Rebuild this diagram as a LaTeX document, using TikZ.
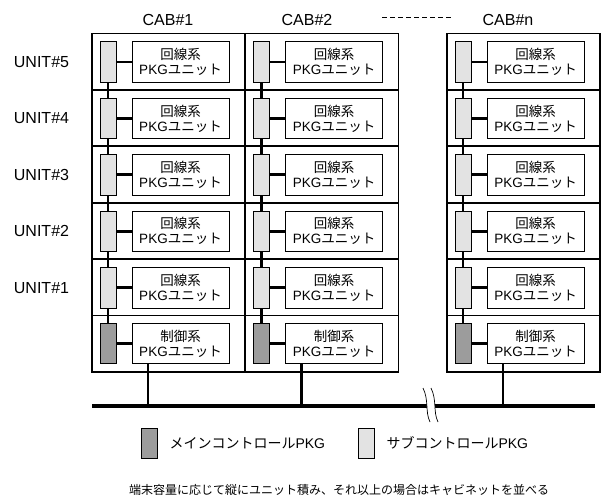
\documentclass[tikz,border=0pt]{standalone}
\usepackage{fontspec}
\setmainfont{Liberation Sans}
\newfontfamily\jp{Noto Sans CJK JP}
\usetikzlibrary{calc}

\tikzset{
  cab/.style={draw,line width=1.7pt},
  subpkg/.style={draw,fill=gray!22,minimum width=16pt,minimum height=40.5pt,inner sep=0pt,line width=.7pt},
  mainpkg/.style={subpkg,fill=gray!78},
  unitpkg/.style={draw,fill=white,minimum width=97pt,minimum height=40.5pt,inner sep=0pt,line width=.7pt,align=center,font=\fontsize{13.5}{15}\selectfont},
  wire/.style={line width=2.8pt},
  lbl/.style={font=\fontsize{16}{18}\selectfont}
}

\begin{document}
\begin{tikzpicture}[x=1pt,y=-1pt]
\useasboundingbox(0,0)rectangle(604,498);
% cabinets and units
\foreach \c/\l/\t in {1/92/168,2/245.5/307,n/447/508}{
  \node[lbl](cab\c)at(\t,20){CAB\#\c};
  \draw[cab](\l,33.5)rectangle(\l+153,372);
  \foreach \k in {1,...,5}\draw[cab](\l,33.5+\k*56.4)--(\l+153,33.5+\k*56.4);
  \foreach \j in {1,...,5}{
    \pgfmathsetmacro\yc{33.5+(5-\j)*56.4+28.5}
    \node[subpkg](s\c\j)at(\l+16,\yc){};
    \node[unitpkg](p\c\j)at(\l+88.5,\yc){{\jp 回線系}\\PKG{\jp ユニット}};
    \draw[wire](s\c\j)--(p\c\j);
  }
  \node[mainpkg](s\c0)at(\l+16,343.5){};
  \node[unitpkg](p\c0)at(\l+88.5,343.5){{\jp 制御系}\\PKG{\jp ユニット}};
  \draw[wire](s\c0)--(p\c0);
  \foreach \j/\i in {5/4,4/3,3/2,2/1,1/0}\draw[wire](s\c\j.south)--(s\c\i.north);
  \coordinate(d\c)at(\l+56,406);
  \draw[wire](d\c|-p\c0.south)--(d\c);
}
\foreach \j in {1,...,5}{
  \pgfmathsetmacro\yc{33.5+(5-\j)*56.4+28.5}
  \node[lbl](u\j)at(41.5,\yc){UNIT\#\j};
}
\coordinate(dotsL)at(382,17);\coordinate(dotsR)at(453,17);
\draw[line width=.9pt,dash pattern=on 5pt off 3pt](dotsL)--(dotsR);
% bus with break
\coordinate(busL)at(92,406);\coordinate(busR)at(595,406);
\draw[line width=3.2pt](busL)--(busR);
\fill[white](423,388)..controls(429,400)and(425,412)..(430,422)--(438,422)..controls(433,412)and(437,400)..(431,388)--cycle;
\draw[line width=.7pt](423,388)..controls(429,400)and(425,412)..(430,422);
\draw[line width=.7pt](431,388)..controls(437,400)and(433,412)..(438,422);
% legend
\node[mainpkg,minimum height=30pt](lgm)at(149,443){};
\node[anchor=west,font=\fontsize{14}{16}\selectfont](lgmt)at(166,443){{\jp メインコントロール}PKG};
\node[subpkg,minimum height=30pt](lgs)at(366,443){};
\node[anchor=west,font=\fontsize{14}{16}\selectfont](lgst)at(383,443){{\jp サブコントロール}PKG};
\node[font=\fontsize{12}{14}\jp](note)at(339,490){端末容量に応じて縦にユニット積み、それ以上の場合はキャビネットを並べる};
\end{tikzpicture}
\end{document}
